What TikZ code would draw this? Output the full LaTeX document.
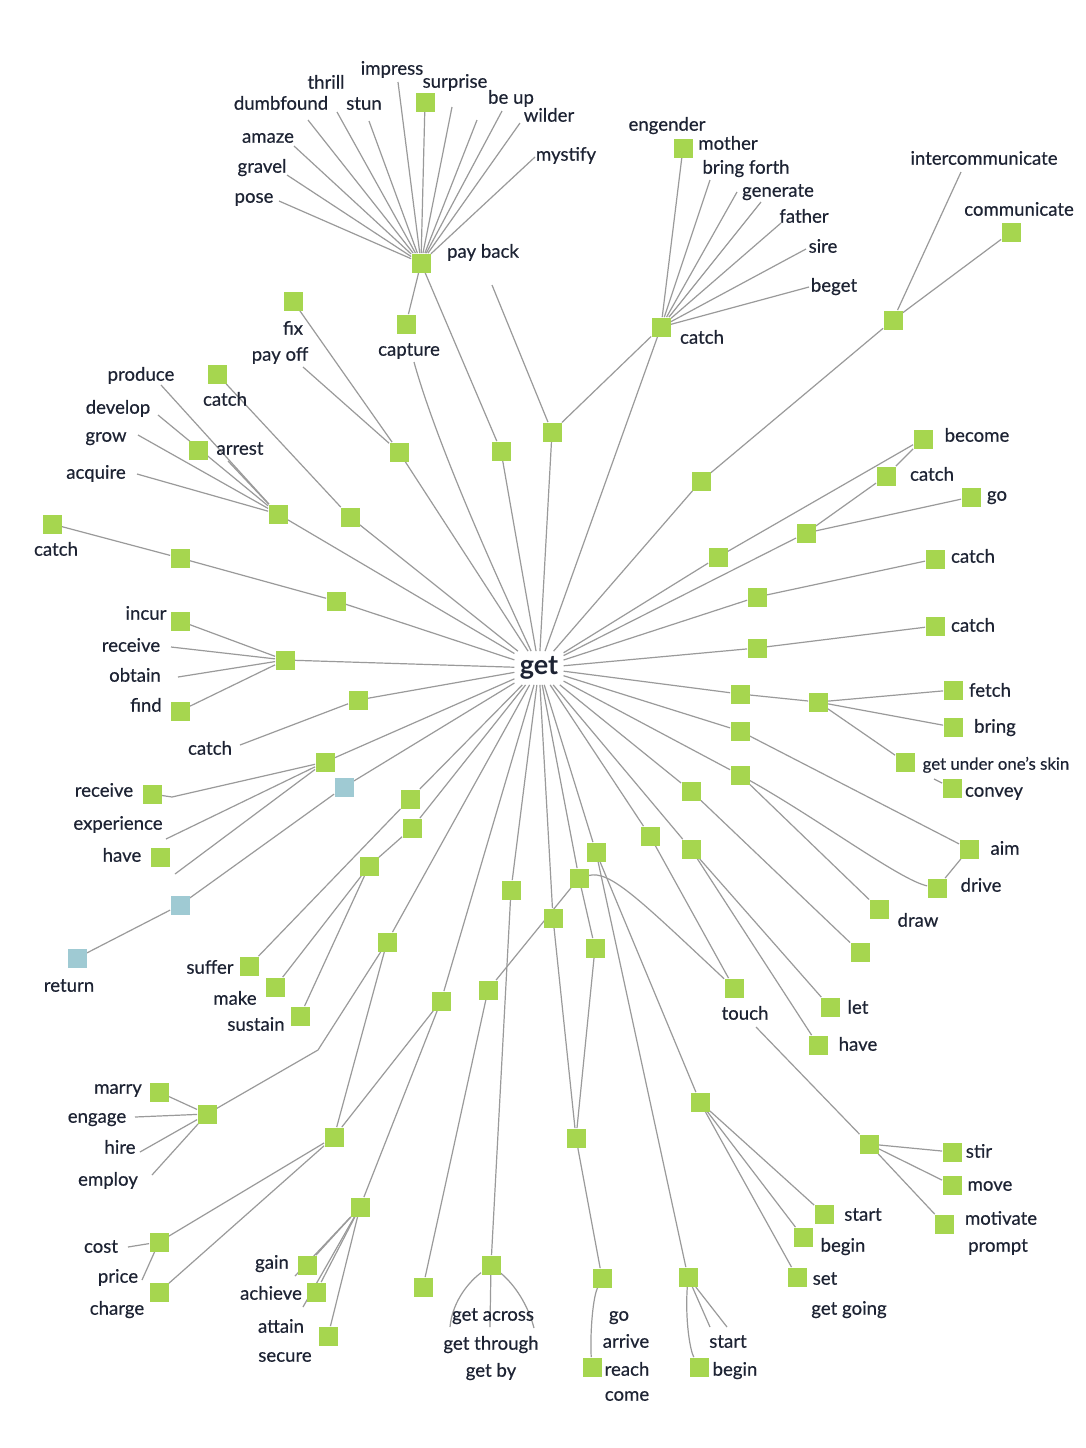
\documentclass[tikz,border=0pt]{standalone}
\usepackage{fontspec}
\setmainfont{Lato}
\newfontfamily\lblfont{Lato}[FakeBold=0.45]
\usetikzlibrary{backgrounds}
\definecolor{sqg}{HTML}{A6D64F}
\definecolor{sqb}{HTML}{9FCAD3}
\definecolor{ink}{HTML}{1D2333}
\definecolor{edgec}{HTML}{9A9A9A}
\begin{document}
\begin{tikzpicture}[x=0.5pt,y=-0.5pt,
  sq/.style={fill=sqg,inner sep=0,minimum size=9.5pt},
  bsq/.style={fill=sqb,inner sep=0,minimum size=9.5pt},
  lb/.style={text=ink,inner sep=0,font=\lblfont\fontsize{9.3}{11}\selectfont,text height=6.8pt,text depth=1.9pt,yshift=-1.4pt},
  ln/.style={draw=edgec,line width=0.6pt}]
\useasboundingbox (0,0) rectangle (1086,1448);
% centre
\node[font=\fontsize{13.5}{15}\selectfont\bfseries,text=ink,inner sep=2.5pt] (get) at (539,668) {get};
% squares
\node[sq] (pb) at (421,263) {};
\node[sq] (surp) at (425,102) {};
\node[sq] (capsq) at (406,324) {};
\node[sq] (s501) at (501,451) {};
\node[sq] (s552) at (552,432) {};
\node[sq] (cth) at (661,327) {};
\node[sq] (eng) at (683,148) {};
\node[sq] (h893) at (893,320) {};
\node[sq] (comm) at (1011,232) {};
\node[sq] (s701) at (701,481) {};
\node[sq] (fixsq) at (293,301) {};
\node[sq] (s399) at (399,452) {};
\node[sq] (cat2) at (217,374) {};
\node[sq] (s350) at (350,517) {};
\node[sq] (arr) at (198,450) {};
\node[sq] (h278) at (278,514) {};
\node[sq] (cat1) at (52,524) {};
\node[sq] (s180) at (180,558) {};
\node[sq] (s336) at (336,601) {};
\node[sq] (incur) at (180,621) {};
\node[sq] (find) at (180,711) {};
\node[sq] (h285) at (285,660) {};
\node[sq] (s358) at (358,700) {};
\node[sq] (h325) at (325,762) {};
\node[sq] (recv) at (152,794) {};
\node[sq] (have1) at (160,857) {};
\node[bsq] (bl1) at (344,787) {};
\node[bsq] (bl2) at (180,905) {};
\node[bsq] (bl3) at (77,958) {};
\node[sq] (s410) at (410,799) {};
\node[sq] (s412) at (412,828) {};
\node[sq] (s369) at (369,866) {};
\node[sq] (suff) at (249,966) {};
\node[sq] (make) at (275,987) {};
\node[sq] (sust) at (300,1016) {};
\node[sq] (s387) at (387,942) {};
\node[sq] (hm) at (207,1114) {};
\node[sq] (marry) at (159,1092) {};
\node[sq] (s441) at (441,1001) {};
\node[sq] (h334) at (334,1137) {};
\node[sq] (cost) at (159,1242) {};
\node[sq] (charge) at (159,1292) {};
\node[sq] (h360) at (360,1207) {};
\node[sq] (gain) at (307,1265) {};
\node[sq] (ach) at (316,1292) {};
\node[sq] (sec) at (328,1336) {};
\node[sq] (s488) at (488,990) {};
\node[sq] (s423) at (423,1287) {};
\node[sq] (s511) at (511,890) {};
\node[sq] (hga) at (491,1265) {};
\node[sq] (s553) at (553,918) {};
\node[sq] (s579) at (579,878) {};
\node[sq] (s595) at (595,948) {};
\node[sq] (s596) at (596,852) {};
\node[sq] (s576) at (576,1138) {};
\node[sq] (s602) at (602,1278) {};
\node[sq] (reach) at (592,1367) {};
\node[sq] (h688) at (688,1277) {};
\node[sq] (begin2) at (699,1367) {};
\node[sq] (s700) at (700,1102) {};
\node[sq] (start1) at (824,1214) {};
\node[sq] (begin1) at (803,1237) {};
\node[sq] (setsq) at (797,1277) {};
\node[sq] (s650) at (650,836) {};
\node[sq] (touch) at (734,988) {};
\node[sq] (hs) at (869,1144) {};
\node[sq] (stir) at (952,1152) {};
\node[sq] (move) at (952,1185) {};
\node[sq] (motiv) at (944,1224) {};
\node[sq] (s691b) at (691,849) {};
\node[sq] (letsq) at (830,1007) {};
\node[sq] (have2) at (818,1045) {};
\node[sq] (s691a) at (691,791) {};
\node[sq] (s860) at (860,952) {};
\node[sq] (s740c) at (740,775) {};
\node[sq] (drawsq) at (879,909) {};
\node[sq] (drive) at (937,888) {};
\node[sq] (aim) at (969,849) {};
\node[sq] (s740b) at (740,731) {};
\node[sq] (s740a) at (740,694) {};
\node[sq] (h818) at (818,702) {};
\node[sq] (fetch) at (953,690) {};
\node[sq] (bring) at (953,727) {};
\node[sq] (gus) at (905,762) {};
\node[sq] (convey) at (952,788) {};
\node[sq] (s757b) at (757,648) {};
\node[sq] (catc3) at (935,626) {};
\node[sq] (s757a) at (757,597) {};
\node[sq] (catc2) at (935,559) {};
\node[sq] (s806) at (806,533) {};
\node[sq] (catc1) at (886,476) {};
\node[sq] (become) at (923,439) {};
\node[sq] (gosq) at (971,497) {};
\node[sq] (s718) at (718,557) {};
% free ends
\coordinate (cdumb) at (308,120);
\coordinate (cthrill) at (337,112);
\coordinate (cstun) at (369,121);
\coordinate (cimp) at (398,82);
\coordinate (cbu1) at (452,107);
\coordinate (cbu2) at (477,120);
\coordinate (cbu3) at (502,111);
\coordinate (cwild) at (520,123);
\coordinate (cmyst) at (535,157);
\coordinate (camaze) at (294,146);
\coordinate (cgrav) at (287,175);
\coordinate (cpose) at (279,201);
\coordinate (ccapl) at (414,362);
\coordinate (cpbl) at (492,285);
\coordinate (cbf) at (710,180);
\coordinate (cgen) at (737,192);
\coordinate (cgen2) at (761,202);
\coordinate (cfath) at (781,223);
\coordinate (csire) at (806,249);
\coordinate (cbeget) at (809,287);
\coordinate (cinter) at (961,172);
\coordinate (cpayoff) at (303,367);
\coordinate (cprod) at (161,385);
\coordinate (cdev) at (158,415);
\coordinate (cgrow) at (138,435);
\coordinate (cacq) at (137,474);
\coordinate (carr) at (228,461);
\coordinate (crec) at (171,647);
\coordinate (cobt) at (178,677);
\coordinate (ccatch) at (240,745);
\coordinate (crecv) at (172,797);
\coordinate (cexp) at (166,839);
\coordinate (chave) at (175,874);
\coordinate (c318) at (318,1050);
\coordinate (ceng) at (135,1117);
\coordinate (chire) at (140,1152);
\coordinate (cemp) at (152,1175);
\coordinate (ccost) at (128,1247);
\coordinate (cprice) at (142,1280);
\coordinate (cgain) at (295,1276);
\coordinate (cach) at (303,1307);
\coordinate (cga1) at (450,1327);
\coordinate (cga2) at (490,1327);
\coordinate (cga3) at (534,1328);
\coordinate (cst) at (710,1327);
\coordinate (cst2) at (727,1327);
\coordinate (ctouch) at (756,1027);
\coordinate (cconv) at (934,779);
% labels
\node[lb] (l1) at (326,81) {thrill};
\node[lb] (l2) at (281,102) {dumbfound};
\node[lb] (l3) at (364,102) {stun};
\node[lb] (l4) at (392,67) {impress};
\node[lb] (l5) at (455,80) {surprise};
\node[lb] (l6) at (511,96) {be up};
\node[lb] (l7) at (549,114) {wilder};
\node[lb] (l8) at (566,153) {mystify};
\node[lb] (l9) at (268,135) {amaze};
\node[lb] (l10) at (262,165) {gravel};
\node[lb] (l11) at (254,195) {pose};
\node[lb] (l12) at (483,250) {pay back};
\node[lb] (l13) at (409,348) {capture};
\node[lb] (l14) at (667,123) {engender};
\node[lb] (l15) at (728,142) {mother};
\node[lb] (l16) at (746,166) {bring forth};
\node[lb] (l17) at (778,189) {generate};
\node[lb] (l18) at (804,215) {father};
\node[lb] (l19) at (823,245) {sire};
\node[lb] (l20) at (834,284) {beget};
\node[lb] (l21) at (702,336) {catch};
\node[lb] (l22) at (984,157) {intercommunicate};
\node[lb] (l23) at (1019,208) {communicate};
\node[lb] (l24) at (293,327) {fix};
\node[lb] (l25) at (280,353) {pay off};
\node[lb] (l26) at (141,373) {produce};
\node[lb] (l27) at (225,398) {catch};
\node[lb] (l28) at (118,406) {develop};
\node[lb] (l29) at (106,434) {grow};
\node[lb] (l30) at (240,447) {arrest};
\node[lb] (l31) at (96,471) {acquire};
\node[lb] (l32) at (56,548) {catch};
\node[lb] (l33) at (146,612) {incur};
\node[lb] (l34) at (131,644) {receive};
\node[lb] (l35) at (135,674) {obtain};
\node[lb] (l36) at (146,704) {find};
\node[lb] (l37) at (210,747) {catch};
\node[lb] (l38) at (104,789) {receive};
\node[lb] (l39) at (118,822) {experience};
\node[lb] (l40) at (122,854) {have};
\node[lb] (l41) at (69,984) {return};
\node[lb] (l42) at (210,966) {suffer};
\node[lb] (l43) at (235,997) {make};
\node[lb] (l44) at (256,1023) {sustain};
\node[lb] (l45) at (118,1086) {marry};
\node[lb] (l46) at (97,1115) {engage};
\node[lb] (l47) at (120,1146) {hire};
\node[lb] (l48) at (108,1178) {employ};
\node[lb] (l49) at (101,1245) {cost};
\node[lb] (l50) at (118,1275) {price};
\node[lb] (l51) at (117,1307) {charge};
\node[lb] (l52) at (272,1261) {gain};
\node[lb] (l53) at (271,1292) {achieve};
\node[lb] (l54) at (281,1325) {attain};
\node[lb] (l55) at (285,1354) {secure};
\node[lb] (l56) at (493,1313) {get across};
\node[lb] (l57) at (491,1342) {get through};
\node[lb] (l58) at (491,1369) {get by};
\node[lb] (l59) at (619,1313) {go};
\node[lb] (l60) at (626,1340) {arrive};
\node[lb] (l61) at (627,1368) {reach};
\node[lb] (l62) at (627,1393) {come};
\node[lb] (l63) at (728,1340) {start};
\node[lb] (l64) at (735,1368) {begin};
\node[lb] (l65) at (863,1213) {start};
\node[lb] (l66) at (843,1244) {begin};
\node[lb] (l67) at (825,1277) {set};
\node[lb] (l68) at (849,1307) {get going};
\node[lb] (l69) at (979,1150) {stir};
\node[lb] (l70) at (990,1183) {move};
\node[lb] (l71) at (1001,1217) {motivate};
\node[lb] (l72) at (998,1244) {prompt};
\node[lb] (l73) at (745,1012) {touch};
\node[lb] (l74) at (858,1006) {let};
\node[lb] (l75) at (858,1043) {have};
\node[lb] (l76) at (918,919) {draw};
\node[lb] (l77) at (981,884) {drive};
\node[lb] (l78) at (1005,847) {aim};
\node[lb] (l79) at (994,789) {convey};
\node[lb,font=\lblfont\fontsize{8.4}{10}\selectfont] (l80) at (996,762) {get under one’s skin};
\node[lb] (l81) at (995,725) {bring};
\node[lb] (l82) at (990,689) {fetch};
\node[lb] (l83) at (973,624) {catch};
\node[lb] (l84) at (973,555) {catch};
\node[lb] (l85) at (997,493) {go};
\node[lb] (l86) at (932,473) {catch};
\node[lb] (l87) at (977,434) {become};
% edges
\begin{pgfonlayer}{background}
\fill[white] (0,0) rectangle (1086,1448);
\foreach \t in {cdumb,cthrill,cstun,cimp,surp,cbu1,cbu2,cbu3,cwild,cmyst,camaze,cgrav,cpose,capsq,s501}
  \draw[ln] (pb) -- (\t);
\draw[ln] (ccapl) .. controls (430,420) and (470,520) .. (get);
\draw[ln] (s501) -- (get);
\draw[ln] (cpbl) -- (s552);
\draw[ln] (s552) -- (get);
\draw[ln] (s552) -- (cth);
\foreach \t in {eng,cbf,cgen,cgen2,cfath,csire,cbeget}
  \draw[ln] (cth) -- (\t);
\draw[ln] (cth) -- (get);
\draw[ln] (h893) -- (cinter);
\draw[ln] (h893) -- (comm);
\draw[ln] (h893) -- (s701) -- (get);
\draw[ln] (get) -- (s718) -- (become);
\draw[ln] (get) -- (s806) -- (catc1) -- (become);
\draw[ln] (s806) -- (gosq);
\draw[ln] (get) -- (s757a) -- (catc2);
\draw[ln] (get) -- (s757b) -- (catc3);
\draw[ln] (get) -- (s740a) -- (h818);
\draw[ln] (h818) -- (fetch);
\draw[ln] (h818) -- (bring);
\draw[ln] (h818) -- (gus);
\draw[ln] (cconv) -- (convey);
\draw[ln] (get) -- (s740b) -- (aim);
\draw[ln] (get) -- (s740c) -- (drawsq);
\draw[ln] (s740c) .. controls (820,820) and (900,880) .. (drive);
\draw[ln] (drive) -- (aim);
\draw[ln] (get) -- (s691a) -- (s860);
\draw[ln] (get) -- (s691b) -- (letsq);
\draw[ln] (s691b) -- (have2);
\draw[ln] (get) -- (s650) -- (touch);
\draw[ln] (get) -- (s579);
\draw[ln] (s579) .. controls (610,870) and (640,900) .. (touch);
\draw[ln] (s579) -- (s488);
\draw[ln] (s579) -- (s595) -- (s576);
\draw[ln] (get) -- (s596) -- (s700);
\draw[ln] (s596) -- (h688);
\draw[ln] (get) -- (s553) -- (s576);
\draw[ln] (s576) -- (s602);
\draw[ln] (s602) .. controls (592,1300) and (590,1340) .. (reach);
\draw[ln] (h688) .. controls (685,1320) and (690,1350) .. (begin2);
\draw[ln] (h688) -- (cst);
\draw[ln] (h688) -- (cst2);
\draw[ln] (s700) -- (start1);
\draw[ln] (s700) -- (begin1);
\draw[ln] (s700) -- (setsq);
\draw[ln] (ctouch) -- (hs);
\draw[ln] (hs) -- (stir);
\draw[ln] (hs) -- (move);
\draw[ln] (hs) -- (motiv);
\draw[ln] (get) -- (s511) -- (hga);
\draw[ln] (hga) .. controls (465,1285) and (452,1305) .. (cga1);
\draw[ln] (hga) -- (cga2);
\draw[ln] (hga) .. controls (515,1285) and (528,1305) .. (cga3);
\draw[ln] (s488) -- (s423);
\draw[ln] (get) -- (s441) -- (h334);
\draw[ln] (s441) -- (h360);
\foreach \t in {gain,ach,sec,cgain,cach}
  \draw[ln] (h360) -- (\t);
\draw[ln] (h334) -- (cost);
\draw[ln] (h334) -- (charge);
\draw[ln] (cost) -- (ccost);
\draw[ln] (cost) -- (cprice);
\draw[ln] (get) -- (s387) -- (c318) -- (hm);
\draw[ln] (s387) -- (h334);
\foreach \t in {marry,ceng,chire,cemp}
  \draw[ln] (hm) -- (\t);
\draw[ln] (get) -- (s410) -- (suff);
\draw[ln] (get) -- (s412) -- (s369);
\draw[ln] (s369) -- (make);
\draw[ln] (s369) -- (sust);
\draw[ln] (get) -- (bl1) -- (bl2) -- (bl3);
\draw[ln] (h325) -- (chave);
\draw[ln] (get) -- (h325) -- (crecv) -- (recv);
\draw[ln] (h325) -- (cexp);
\draw[ln] (get) -- (s358) -- (ccatch);
\draw[ln] (get) -- (h285);
\foreach \t in {incur,crec,cobt,find}
  \draw[ln] (h285) -- (\t);
\draw[ln] (get) -- (s336) -- (s180) -- (cat1);
\draw[ln] (get) -- (h278);
\foreach \t in {cprod,cdev,cgrow,cacq,carr}
  \draw[ln] (h278) -- (\t);
\draw[ln] (get) -- (s350) -- (cat2);
\draw[ln] (get) -- (s399) -- (fixsq);
\draw[ln] (s399) -- (cpayoff);
\end{pgfonlayer}
\end{tikzpicture}
\end{document}
